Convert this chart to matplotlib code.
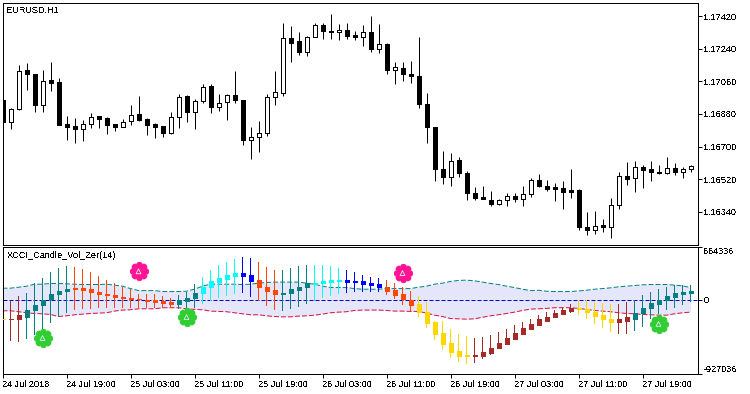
import matplotlib
matplotlib.use("Agg")
import matplotlib.pyplot as plt
import numpy as np
from matplotlib.path import Path

plt.rcParams["font.family"] = ["Liberation Sans", "DejaVu Sans"]
plt.rcParams["font.size"] = 6.6
plt.rcParams["text.antialiased"] = False

# EURUSD,H1 candles, prices in 1e-5 units
highs = [116959, 116915, 117149, 117160, 117099, 117121, 117166, 117081, 116867, 116856,
         116845, 116884, 116871, 116865, 116823, 116854, 116928, 116978, 116856, 116828,
         116812, 116893, 116989, 116983, 116965, 117044, 117044, 116989, 116993, 117116,
         116959, 116806, 116840, 116989, 117116, 117381, 117365, 117335, 117313, 117380,
         117381, 117431, 117376, 117381, 117341, 117370, 117420, 117376, 117274, 117166,
         117166, 117171, 117304, 116994, 116810, 116674, 116663, 116640, 116567, 116475,
         116480, 116452, 116412, 116445, 116445, 116480, 116524, 116546, 116513, 116497,
         116508, 116574, 116467, 116336, 116342, 116298, 116414, 116561, 116613, 116618,
         116596, 116618, 116596, 116640, 116607, 116585, 116596]
lows = [116832, 116797, 116902, 117011, 116891, 116891, 117007, 116819, 116736, 116720,
        116731, 116801, 116801, 116768, 116786, 116808, 116819, 116841, 116764, 116747,
        116751, 116771, 116803, 116836, 116797, 116943, 116886, 116897, 116847, 116939,
        116709, 116631, 116670, 116758, 116930, 116980, 117166, 117206, 117201, 117308,
        117295, 117295, 117289, 117295, 117289, 117256, 117221, 117217, 117101, 117046,
        117062, 117051, 116913, 116720, 116510, 116493, 116482, 116532, 116403, 116403,
        116410, 116371, 116379, 116371, 116393, 116371, 116421, 116476, 116454, 116399,
        116355, 116416, 116239, 116211, 116217, 116228, 116194, 116355, 116488, 116449,
        116471, 116510, 116548, 116548, 116543, 116526, 116559]
body_tops = [116956, 116910, 117120, 117121, 117099, 117064, 117066, 117055, 116823, 116812,
             116827, 116865, 116867, 116856, 116823, 116838, 116876, 116878, 116851, 116823,
             116812, 116865, 116976, 116978, 116954, 117031, 117033, 116943, 116987, 116987,
             116959, 116755, 116777, 116976, 117004, 117302, 117302, 117286, 117308, 117374,
             117374, 117341, 117346, 117346, 117315, 117335, 117335, 117269, 117269, 117142,
             117136, 117103, 117092, 116937, 116810, 116578, 116622, 116628, 116556, 116445,
             116419, 116403, 116406, 116427, 116428, 116440, 116517, 116517, 116484, 116475,
             116473, 116458, 116458, 116257, 116263, 116265, 116379, 116539, 116539, 116589,
             116589, 116574, 116561, 116583, 116583, 116578, 116593]
body_bottoms = [116836, 116836, 116908, 117101, 116930, 116930, 117051, 116819, 116808, 116797,
                116799, 116827, 116852, 116819, 116808, 116810, 116843, 116847, 116819, 116808,
                116775, 116775, 116865, 116891, 116893, 116954, 116919, 116921, 116948, 116959,
                116736, 116738, 116755, 116775, 116976, 116998, 117273, 117223, 117223, 117308,
                117339, 117333, 117335, 117311, 117308, 117308, 117239, 117239, 117123, 117125,
                117101, 117090, 116935, 116808, 116576, 116532, 116532, 116554, 116443, 116416,
                116412, 116382, 116384, 116406, 116410, 116412, 116440, 116482, 116465, 116465,
                116451, 116451, 116255, 116239, 116241, 116255, 116255, 116379, 116523, 116528,
                116572, 116561, 116554, 116554, 116561, 116561, 116576]
white_candles = [1, 2, 5, 10, 11, 15, 16, 21, 22, 24, 25, 27, 28, 31, 32, 33, 34, 35, 38, 39, 42,
                 45, 47, 49, 56, 62, 63, 65, 66, 74, 76, 77, 79, 83, 85, 86]

# XCCI_Candle_Vol_Zer(14), values in thousands
ind_highs = [-238, -23, 40, 87, 201, 268, 344, 395, 416, 407, 382, 344, 294, 243, 201, 163, 133,
             74, 66, 66, 40, 15, 53, 95, 192, 285, 365, 428, 466, 504, 530, 517, 471, 407, 369,
             369, 395, 420, 433, 433, 428, 416, 395, 369, 344, 306, 281, 268, 243, 205, 154, 104,
             40, -35, -263, -263, -364, -428, -453, -478, -466, -440, -402, -364, -314, -276,
             -238, -200, -162, -137, -99, -61, -23, -10, -23, -48, -61, -61, -35, -10, 53, 91,
             129, 154, 180, 180, 180]
ind_lows = [-250, -516, -529, -491, -440, -364, -288, -225, -175, -137, -124, -116, -111, -111,
            -111, -103, -103, -103, -103, -103, -103, -103, -124, -145, -103, -61, -19, 15, 45,
            66, 78, 32, -23, -82, -132, -145, -120, -94, -61, -19, 15, 40, 66, 78, 91, 91, 95,
            91, 53, 3, -73, -145, -225, -352, -503, -630, -731, -782, -807, -794, -744, -693,
            -626, -567, -503, -440, -377, -314, -263, -225, -200, -175, -200, -238, -301, -352,
            -402, -428, -428, -390, -339, -250, -187, -137, -111, -73, -35]
ind_tops = [-238, -238, -200, -128, -65, -6, 74, 112, 137, 142, 142, 129, 100, 74, 62, 36, 24, 11,
            -10, -10, -23, -35, -6, 24, 83, 163, 226, 268, 306, 327, 327, 302, 239, 163, 116, 87,
            129, 163, 201, 213, 226, 243, 243, 243, 230, 230, 205, 192, 163, 116, 66, -10, -61,
            -153, -280, -415, -541, -643, -693, -693, -655, -605, -541, -478, -415, -352, -301,
            -250, -213, -175, -137, -111, -111, -124, -153, -200, -238, -250, -225, -166, -103,
            -48, -10, 40, 78, 91, 104]
ind_bottoms = [-250, -250, -250, -213, -137, -73, 7, 70, 104, 133, 121, 91, 66, 53, 28, 15, 3, 3,
               -19, -35, -44, -57, -57, -19, 19, 83, 159, 218, 256, 298, 298, 234, 154, 108, 70,
               70, 83, 121, 154, 192, 205, 222, 234, 218, 222, 192, 184, 154, 108, 57, 3, -73,
               -158, -288, -428, -554, -655, -702, -710, -714, -702, -668, -613, -554, -491, -428,
               -364, -314, -263, -225, -187, -149, -124, -162, -208, -250, -280, -276, -263, -238,
               -175, -111, -61, -2, 28, 66, 78]
band_upper = [142, 142, 154, 167, 192, 192, 201, 201, 197, 192, 188, 188, 188, 192, 180, 167, 137,
              112, 112, 112, 100, 100, 100, 104, 129, 167, 192, 192, 192, 192, 188, 192, 205, 213,
              218, 218, 218, 218, 205, 192, 167, 150, 150, 150, 137, 129, 129, 129, 137, 137, 137,
              137, 154, 167, 192, 205, 226, 239, 243, 234, 218, 201, 188, 167, 150, 129, 112, 116,
              104, 100, 100, 100, 108, 116, 129, 137, 146, 159, 167, 175, 184, 188, 188, 188, 180,
              171, 150]
band_lower = [-141, -141, -153, -166, -175, -179, -187, -213, -204, -191, -183, -175, -170, -166,
              -145, -132, -128, -116, -116, -116, -103, -103, -103, -116, -124, -128, -145, -149,
              -153, -166, -179, -191, -191, -204, -213, -217, -217, -208, -204, -196, -183, -166,
              -158, -153, -137, -132, -132, -132, -137, -145, -145, -149, -149, -170, -196, -213,
              -238, -242, -246, -242, -222, -204, -191, -175, -158, -137, -120, -116, -111, -103,
              -103, -103, -111, -124, -137, -145, -153, -166, -175, -179, -187, -191, -196, -196,
              -179, -166, -158]

# colour runs of the indicator candles: (first bar, last bar, colour)
color_runs = [(0, 0, "gold"), (1, 2, "brown"), (3, 8, "teal"), (9, 21, "orangered"),
              (22, 24, "teal"), (25, 29, "cyan"), (30, 31, "blue"), (32, 34, "orangered"),
              (35, 38, "teal"), (39, 42, "cyan"), (43, 47, "blue"), (48, 51, "orangered"),
              (52, 58, "gold"), (59, 71, "brown"), (72, 76, "gold"), (77, 78, "brown"),
              (79, 86, "teal")]

pink_bars = [17, 50]
pink_values = [353, 331]
green_bars = [5, 23, 82]
green_values = [-482, -221, -305]

price_ticks = [1.17420, 1.17240, 1.17060, 1.16880, 1.16700, 1.16520, 1.16340]
ind_ticks = [664.336, 0, -927.036]
ind_tick_labels = ["664336", "0", "-927036"]
time_tick_bars = list(range(0, 81, 8))
time_labels = ["24 Jul 2018", "24 Jul 19:00", "25 Jul 03:00", "25 Jul 11:00", "25 Jul 19:00",
               "26 Jul 03:00", "26 Jul 11:00", "26 Jul 19:00", "27 Jul 03:00", "27 Jul 11:00",
               "27 Jul 19:00"]

W, H = 750, 394
PX = 0.72


def pane(fig, left, top, right, bottom):
    ax = fig.add_axes([left / W, 1 - bottom / H, (right - left) / W, (bottom - top) / H])
    ax.set_xlim(0, (right - left) / 8)
    for spine in ax.spines.values():
        spine.set_linewidth(PX)
    ax.yaxis.tick_right()
    ax.tick_params(length=2.9, width=PX, pad=1.5)
    return ax


def flower_marker():
    theta = np.linspace(0, 2 * np.pi, 161)
    radius = 0.8 + 0.2 * np.abs(np.cos(4 * theta)) ** 0.4
    return Path(np.column_stack([radius * np.cos(theta), radius * np.sin(theta)]), closed=True)


fig = plt.figure(figsize=(W / 100, H / 100), dpi=100, facecolor="white")
ax_price = pane(fig, 2.5, 2.5, 697.5, 244.5)
ax_ind = pane(fig, 2.5, 246.5, 697.5, 373.5)

bars = np.arange(len(highs))
highs, lows = np.array(highs) / 1e5, np.array(lows) / 1e5
body_tops, body_bottoms = np.array(body_tops) / 1e5, np.array(body_bottoms) / 1e5

ax_price.set_ylim(1.16159, 1.17496)
ax_price.vlines(bars, lows, highs, color="black", lw=PX, zorder=2)
body_colors = ["white" if i in white_candles else "black" for i in bars]
ax_price.bar(bars, body_tops - body_bottoms, bottom=body_bottoms, width=0.5, color=body_colors,
             edgecolor="black", linewidth=PX, zorder=3, antialiased=False)
ax_price.set_xticks([])
ax_price.set_yticks(price_ticks, [f"{p:.5f}" for p in price_ticks])
ax_price.text(4 / 695, 0.968, "EURUSD,H1", transform=ax_price.transAxes, va="center", ha="left")

ax_ind.set_ylim(-927.036, 664.336)
ax_ind.fill_between(bars, band_lower, band_upper, color="#e6e6fa", lw=0, zorder=1)
ax_ind.axhline(0, color="#0000cd", lw=PX, dashes=(4, 2), zorder=2)
ax_ind.plot(bars, band_upper, color="teal", lw=PX, dashes=(5, 2), zorder=2)
ax_ind.plot(bars, band_lower, color="crimson", lw=PX, dashes=(5, 2), zorder=2)

ind_colors = [None] * len(bars)
for first, last, color in color_runs:
    for i in range(first, last + 1):
        ind_colors[i] = color
ind_highs, ind_lows = np.array(ind_highs), np.array(ind_lows)
ind_tops, ind_bottoms = np.array(ind_tops), np.array(ind_bottoms)
# wicks as 1px bars, coloured per candle
ax_ind.bar(bars, ind_highs - ind_lows, bottom=ind_lows, width=0.16, color=ind_colors,
           linewidth=0, zorder=3, antialiased=False)
ax_ind.bar(bars, ind_tops - ind_bottoms, bottom=ind_bottoms, width=0.5, color=ind_colors,
           edgecolor=ind_colors, linewidth=PX, zorder=4, antialiased=False)

marker = flower_marker()
ax_ind.scatter(pink_bars, pink_values, marker=marker, s=190, color="#ff1493", lw=0, zorder=5)
ax_ind.scatter(green_bars, green_values, marker=marker, s=190, color="#32cd32", lw=0, zorder=5)
all_x, all_y = pink_bars + green_bars, pink_values + green_values
ax_ind.scatter(all_x, all_y, marker="^", s=12, facecolor="none", edgecolor="#d8f4e8", lw=0.6, zorder=6)

ax_ind.set_yticks(ind_ticks, ind_tick_labels)
tick_labels = ax_ind.get_yticklabels()
tick_labels[0].set_va("top")
tick_labels[2].set_va("bottom")
ax_ind.set_xticks(time_tick_bars, time_labels)
for label in ax_ind.get_xticklabels():
    label.set_ha("left")
ax_ind.text(4 / 695, 0.93, "XCCI_Candle_Vol_Zer(14)", transform=ax_ind.transAxes, va="center", ha="left")

fig.savefig("out.png", dpi=100)
